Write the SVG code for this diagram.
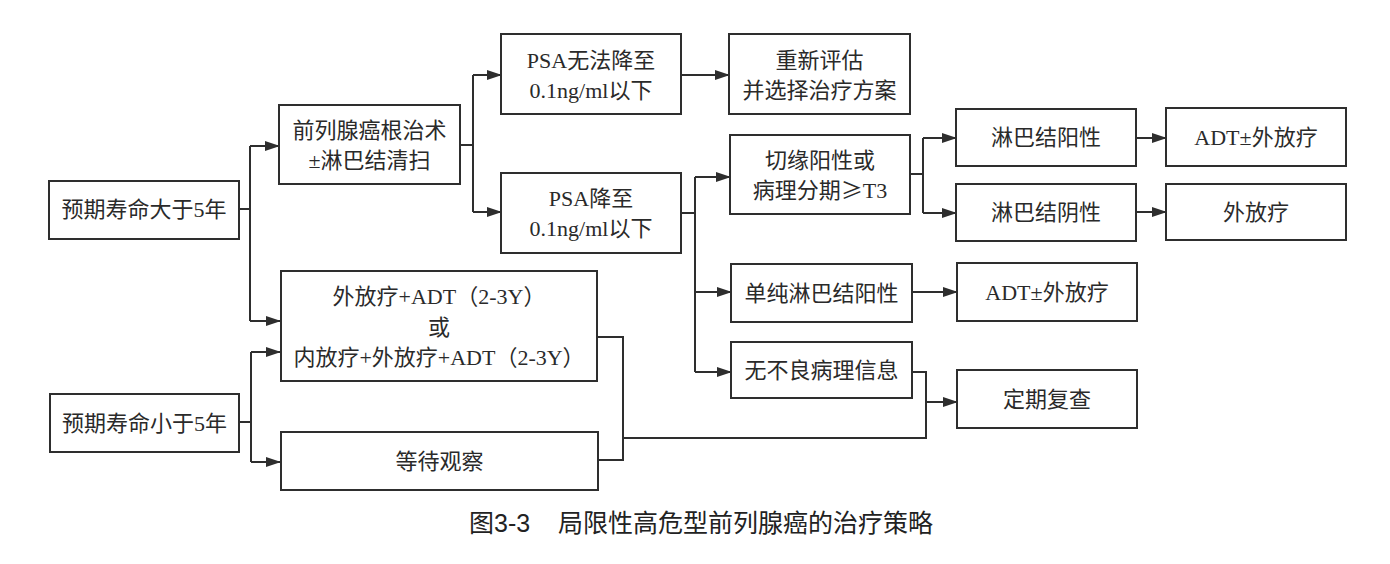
<svg xmlns="http://www.w3.org/2000/svg" width="1390" height="564" viewBox="0 0 1390 564">
<style>
.box{fill:#fff;stroke:#2e2e2e;stroke-width:2}
.t{font-family:"Liberation Serif","Noto Sans CJK SC",serif;font-size:22px;fill:#2a2a2a;text-anchor:middle}
.cj{font-family:"Noto Sans CJK SC",sans-serif}
.cap{font-family:"Liberation Sans","Noto Sans CJK SC",sans-serif;font-size:25px;fill:#222}
.ln{fill:none;stroke:#2e2e2e;stroke-width:2}
.ar{fill:none;stroke:#2e2e2e;stroke-width:2;marker-end:url(#ah)}
</style>
<defs>
<marker id="ah" markerUnits="userSpaceOnUse" markerWidth="16" markerHeight="12" refX="14" refY="6" orient="auto">
<path d="M0,1 L15,6 L0,11 Z" fill="#2e2e2e"/>
</marker>
</defs>
<rect width="1390" height="564" fill="#fff"/>
<g id="connectors">
<path class="ln" d="M239,209 H250 M250,146 V321"/>
<path class="ar" d="M250,146 H279"/>
<path class="ar" d="M250,321 H280"/>
<path class="ln" d="M239,422 H251 M251,352 V462"/>
<path class="ar" d="M251,352 H280"/>
<path class="ar" d="M251,462 H280"/>
<path class="ln" d="M460,145 H473 M473,75 V212"/>
<path class="ar" d="M473,75 H501"/>
<path class="ar" d="M473,212 H501"/>
<path class="ar" d="M681,75 H729"/>
<path class="ln" d="M681,213 H695 M695,177 V372"/>
<path class="ar" d="M695,177 H730"/>
<path class="ar" d="M695,292 H731"/>
<path class="ar" d="M695,372 H731"/>
<path class="ln" d="M910,174 H923 M923,138 V213"/>
<path class="ar" d="M923,138 H956"/>
<path class="ar" d="M923,213 H956"/>
<path class="ar" d="M1136,138 H1166"/>
<path class="ar" d="M1136,212 H1166"/>
<path class="ar" d="M912,292 H957"/>
<path class="ln" d="M912,372 H926 V438 H623 M597,337 H623 V460 H598"/>
<path class="ar" d="M926,402 H957"/>
</g>
<g id="n1"><rect class="box" x="49" y="181" width="190" height="58"/><text class="t" x="144" y="217">预期寿命大于5年</text></g>
<g id="n2"><rect class="box" x="279" y="105" width="181" height="79"/><text class="t" x="369.5" y="138">前列腺癌根治术</text><text class="t" x="369.5" y="168">±淋巴结清扫</text></g>
<g id="n3"><rect class="box" x="501" y="34" width="180" height="80"/><text class="t" x="591" y="68">PSA无法降至</text><text class="t" x="591" y="98">0.1ng/ml以下</text></g>
<g id="n4"><rect class="box" x="729" y="34" width="181" height="80"/><text class="t" x="819.5" y="68">重新评估</text><text class="t" x="819.5" y="98">并选择治疗方案</text></g>
<g id="n5"><rect class="box" x="501" y="173" width="180" height="80"/><text class="t" x="591" y="206">PSA降至</text><text class="t" x="591" y="236">0.1ng/ml以下</text></g>
<g id="n6"><rect class="box" x="730" y="135" width="180" height="79"/><text class="t" x="820" y="168">切缘阳性或</text><text class="t" x="820" y="198">病理分期<tspan class="cj">≥</tspan>T3</text></g>
<g id="n7"><rect class="box" x="956" y="109" width="180" height="57"/><text class="t" x="1046" y="145">淋巴结阳性</text></g>
<g id="n8"><rect class="box" x="956" y="184" width="180" height="57"/><text class="t" x="1046" y="220">淋巴结阴性</text></g>
<g id="n9"><rect class="box" x="1166" y="108" width="180" height="58"/><text class="t" x="1256" y="145">ADT±外放疗</text></g>
<g id="n10"><rect class="box" x="1166" y="184" width="180" height="56"/><text class="t" x="1256" y="220">外放疗</text></g>
<g id="n11"><rect class="box" x="281" y="271" width="316" height="110"/><text class="t" x="439" y="304">外放疗+ADT（2-3Y）</text><text class="t" x="439" y="335">或</text><text class="t" x="439" y="365">内放疗+外放疗+ADT（2-3Y）</text></g>
<g id="n12"><rect class="box" x="50" y="394" width="189" height="58"/><text class="t" x="144.5" y="431">预期寿命小于5年</text></g>
<g id="n13"><rect class="box" x="281" y="432" width="317" height="58"/><text class="t" x="439.5" y="469">等待观察</text></g>
<g id="n14"><rect class="box" x="731" y="264" width="181" height="58"/><text class="t" x="821.5" y="301">单纯淋巴结阳性</text></g>
<g id="n15"><rect class="box" x="731" y="342" width="181" height="56"/><text class="t" x="821.5" y="378">无不良病理信息</text></g>
<g id="n16"><rect class="box" x="957" y="263" width="180" height="58"/><text class="t" x="1047" y="300">ADT±外放疗</text></g>
<g id="n17"><rect class="box" x="957" y="370" width="180" height="58"/><text class="t" x="1047" y="407">定期复查</text></g>
<text class="cap" y="532"><tspan x="469">图3-3</tspan><tspan x="558">局限性高危型前列腺癌的治疗策略</tspan></text>
</svg>
